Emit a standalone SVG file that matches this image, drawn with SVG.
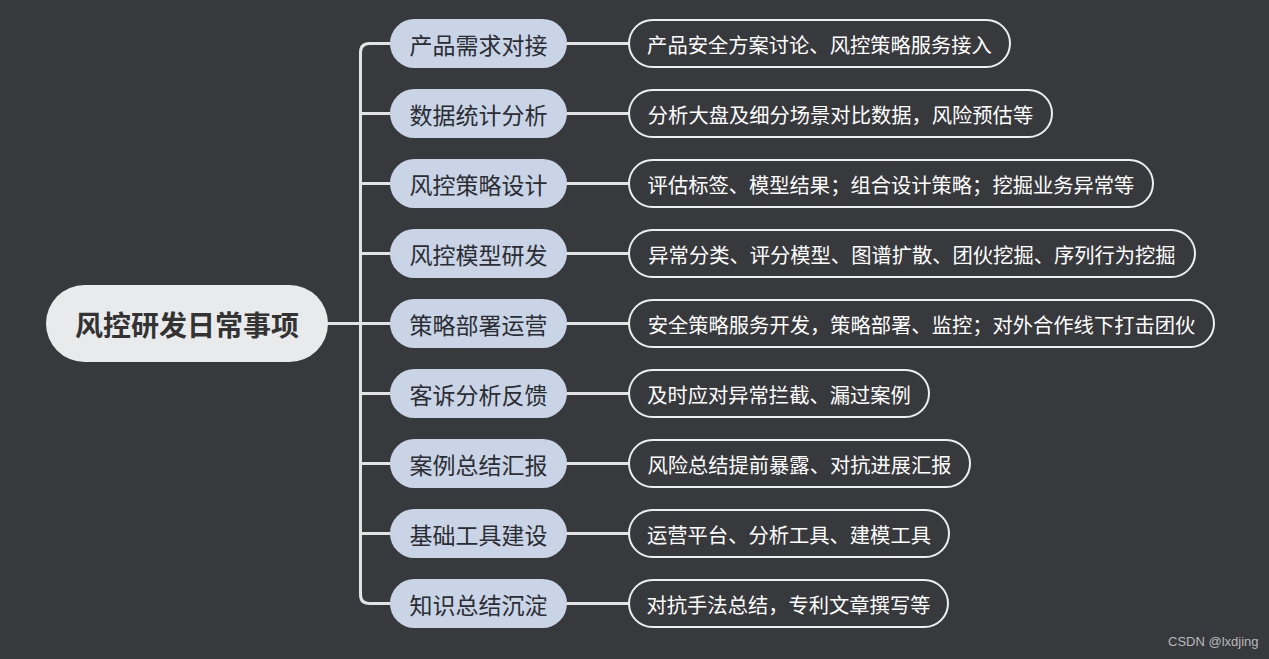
<svg xmlns="http://www.w3.org/2000/svg" width="1269" height="659" viewBox="0 0 1269 659">
<style>
.bg{fill:#38393d}
.con{fill:none;stroke:#e3e3e3;stroke-width:3;stroke-linecap:round}
.root rect{fill:#e9eaec}
.root text{font-family:"Noto Sans CJK SC","Noto Sans",sans-serif;font-size:28px;font-weight:bold;fill:#333;text-anchor:middle;dominant-baseline:central}
.br rect{fill:#c9d4e6}
.br text{font-family:"Noto Sans CJK SC","Noto Sans",sans-serif;font-size:23px;fill:#2b2d33;text-anchor:middle;dominant-baseline:central}
.lf rect{fill:none;stroke:#eeeeee;stroke-width:2}
.lf text{font-family:"Noto Sans CJK SC","Noto Sans",sans-serif;font-size:20.3px;fill:#ffffff;text-anchor:middle;dominant-baseline:central}
.wm{font-family:"Liberation Sans",Arial,sans-serif;font-size:13px;fill:#b8b9bc}
</style>
<rect class="bg" x="0" y="0" width="1269" height="659"/>
<g id="connectors">
<path class="con" d="M328 323.5H390"/>
<path class="con" d="M390 43.5H369.5Q360.5 43.5 360.5 52.5V594.5Q360.5 603.5 369.5 603.5H390"/>
<path class="con" d="M360.5 113.5H390M360.5 183.5H390M360.5 253.5H390M360.5 393.5H390M360.5 463.5H390M360.5 533.5H390"/>
<path class="con" d="M567 43.5H628M567 113.5H628M567 183.5H628M567 253.5H628M567 323.5H628M567 393.5H628M567 463.5H628M567 533.5H628M567 603.5H628"/>
</g>
<g id="root" class="root"><rect x="46" y="285" width="282" height="77" rx="38.5"/><text x="187" y="323.5">风控研发日常事项</text></g>
<g id="b1" class="br"><rect x="390" y="19" width="177" height="49" rx="24.5"/><text x="478.5" y="43.5">产品需求对接</text></g>
<g id="b2" class="br"><rect x="390" y="89" width="177" height="49" rx="24.5"/><text x="478.5" y="113.5">数据统计分析</text></g>
<g id="b3" class="br"><rect x="390" y="159" width="177" height="49" rx="24.5"/><text x="478.5" y="183.5">风控策略设计</text></g>
<g id="b4" class="br"><rect x="390" y="229" width="177" height="49" rx="24.5"/><text x="478.5" y="253.5">风控模型研发</text></g>
<g id="b5" class="br"><rect x="390" y="299" width="177" height="49" rx="24.5"/><text x="478.5" y="323.5">策略部署运营</text></g>
<g id="b6" class="br"><rect x="390" y="369" width="177" height="49" rx="24.5"/><text x="478.5" y="393.5">客诉分析反馈</text></g>
<g id="b7" class="br"><rect x="390" y="439" width="177" height="49" rx="24.5"/><text x="478.5" y="463.5">案例总结汇报</text></g>
<g id="b8" class="br"><rect x="390" y="509" width="177" height="49" rx="24.5"/><text x="478.5" y="533.5">基础工具建设</text></g>
<g id="b9" class="br"><rect x="390" y="579" width="177" height="49" rx="24.5"/><text x="478.5" y="603.5">知识总结沉淀</text></g>
<g id="l1" class="lf"><rect x="629" y="20" width="381" height="47" rx="23.5"/><text x="819.5" y="43.5">产品安全方案讨论、风控策略服务接入</text></g>
<g id="l2" class="lf"><rect x="629" y="90" width="423" height="47" rx="23.5"/><text x="840.5" y="113.5">分析大盘及细分场景对比数据，风险预估等</text></g>
<g id="l3" class="lf"><rect x="629" y="160" width="524" height="47" rx="23.5"/><text x="891" y="183.5">评估标签、模型结果；组合设计策略；挖掘业务异常等</text></g>
<g id="l4" class="lf"><rect x="629" y="230" width="566" height="47" rx="23.5"/><text x="912" y="253.5">异常分类、评分模型、图谱扩散、团伙挖掘、序列行为挖掘</text></g>
<g id="l5" class="lf"><rect x="629" y="300" width="585" height="47" rx="23.5"/><text x="921.5" y="323.5">安全策略服务开发，策略部署、监控；对外合作线下打击团伙</text></g>
<g id="l6" class="lf"><rect x="629" y="370" width="300" height="47" rx="23.5"/><text x="779" y="393.5">及时应对异常拦截、漏过案例</text></g>
<g id="l7" class="lf"><rect x="629" y="440" width="341" height="47" rx="23.5"/><text x="799.5" y="463.5">风险总结提前暴露、对抗进展汇报</text></g>
<g id="l8" class="lf"><rect x="629" y="510" width="320" height="47" rx="23.5"/><text x="789" y="533.5">运营平台、分析工具、建模工具</text></g>
<g id="l9" class="lf"><rect x="629" y="580" width="319" height="47" rx="23.5"/><text x="788.5" y="603.5">对抗手法总结，专利文章撰写等</text></g>
<text class="wm" x="1168" y="646">CSDN @lxdjing</text>
</svg>
